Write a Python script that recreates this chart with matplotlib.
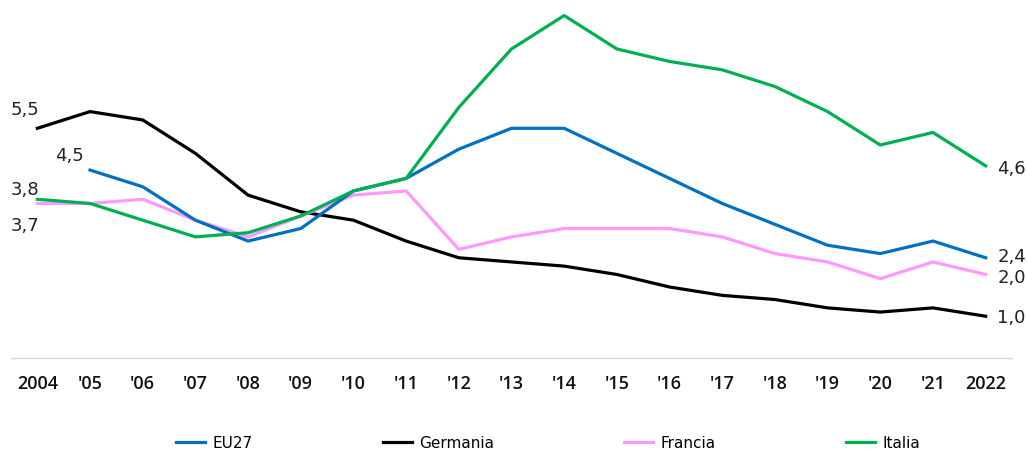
import matplotlib
matplotlib.use("Agg")
import matplotlib.pyplot as plt

# Dati
years = ["2004", "'05", "'06", "'07", "'08", "'09", "'10", "'11", "'12", "'13",
         "'14", "'15", "'16", "'17", "'18", "'19", "'20", "'21", "2022"]

eu27 = [None, 4.5, 4.1, 3.3, 2.8, 3.1, 4.0, 4.3, 5.0, 5.5,
        5.5, 4.9, 4.3, 3.7, 3.2, 2.7, 2.5, 2.8, 2.4]
germania = [5.5, 5.9, 5.7, 4.9, 3.9, 3.5, 3.3, 2.8, 2.4, 2.3,
            2.2, 2.0, 1.7, 1.5, 1.4, 1.2, 1.1, 1.2, 1.0]
francia = [3.7, 3.7, 3.8, 3.3, 2.9, 3.4, 3.9, 4.0, 2.6, 2.9,
           3.1, 3.1, 3.1, 2.9, 2.5, 2.3, 1.9, 2.3, 2.0]
italia = [3.8, 3.7, 3.3, 2.9, 3.0, 3.4, 4.0, 4.3, 6.0, 7.4,
          8.2, 7.4, 7.1, 6.9, 6.5, 5.9, 5.1, 5.4, 4.6]

names = ["EU27", "Germania", "Francia", "Italia"]
colors = ["#0070C0", "#000000", "#FF99FF", "#00B050"]
series = [eu27, germania, francia, italia]

plt.rcParams["font.family"] = ["Open Sans", "DejaVu Sans"]

fig = plt.figure(figsize=(10.27, 4.5), dpi=100)
ax = fig.add_axes([11 / 1027, 1 - 358 / 450, 1001 / 1027, 355 / 450])

x = list(range(len(years)))
handles = {}
for i in [1, 2, 0, 3]:  # ordine di disegno
    xs = [xi for xi, v in zip(x, series[i]) if v is not None]
    ys = [v for v in series[i] if v is not None]
    handles[i], = ax.plot(xs, ys, color=colors[i], lw=2.3, label=names[i],
                          clip_on=False)

ax.set_xlim(-0.5, len(years) - 0.5)
ax.set_ylim(0, 8.5)
ax.set_xticks(x)
ax.set_xticklabels(years, fontsize=13, color="#111111", fontweight="semibold")
ax.tick_params(axis="x", length=0, pad=12)
ax.set_yticks([])
for s in ["top", "right", "left"]:
    ax.spines[s].set_visible(False)
ax.spines["bottom"].set_color("#d9d9d9")
ax.spines["bottom"].set_linewidth(1)


def fmt(v):
    return f"{v:.1f}".replace(".", ",")


lab = dict(textcoords="offset points", fontsize=13, color="#222222",
           ha="left", va="center", family=["DejaVu Sans"])
# etichette iniziali
ax.annotate(fmt(germania[0]), (0, germania[0]), xytext=(-19.5, 13), **lab)
ax.annotate(fmt(eu27[1]), (1, eu27[1]), xytext=(-25, 10), **lab)
ax.annotate(fmt(italia[0]), (0, italia[0]), xytext=(-19.5, 7), **lab)
ax.annotate(fmt(francia[0]), (0, francia[0]), xytext=(-19.5, -16.5), **lab)
# etichette finali
last = len(years) - 1
for s, dy in zip(series, [0.5, -1, -2.5, -2]):
    ax.annotate(fmt(s[last]), (last, s[last]), xytext=(8.5, dy), **lab)

fig.legend([handles[i] for i in range(4)], names, loc="center",
           bbox_to_anchor=(548 / 1027, 1 - 443 / 450), ncol=4,
           frameon=False, handlelength=1.9, handletextpad=0.5,
           columnspacing=8.5, prop={"family": ["DejaVu Sans"], "size": 11})

fig.savefig("out.png", dpi=100)
